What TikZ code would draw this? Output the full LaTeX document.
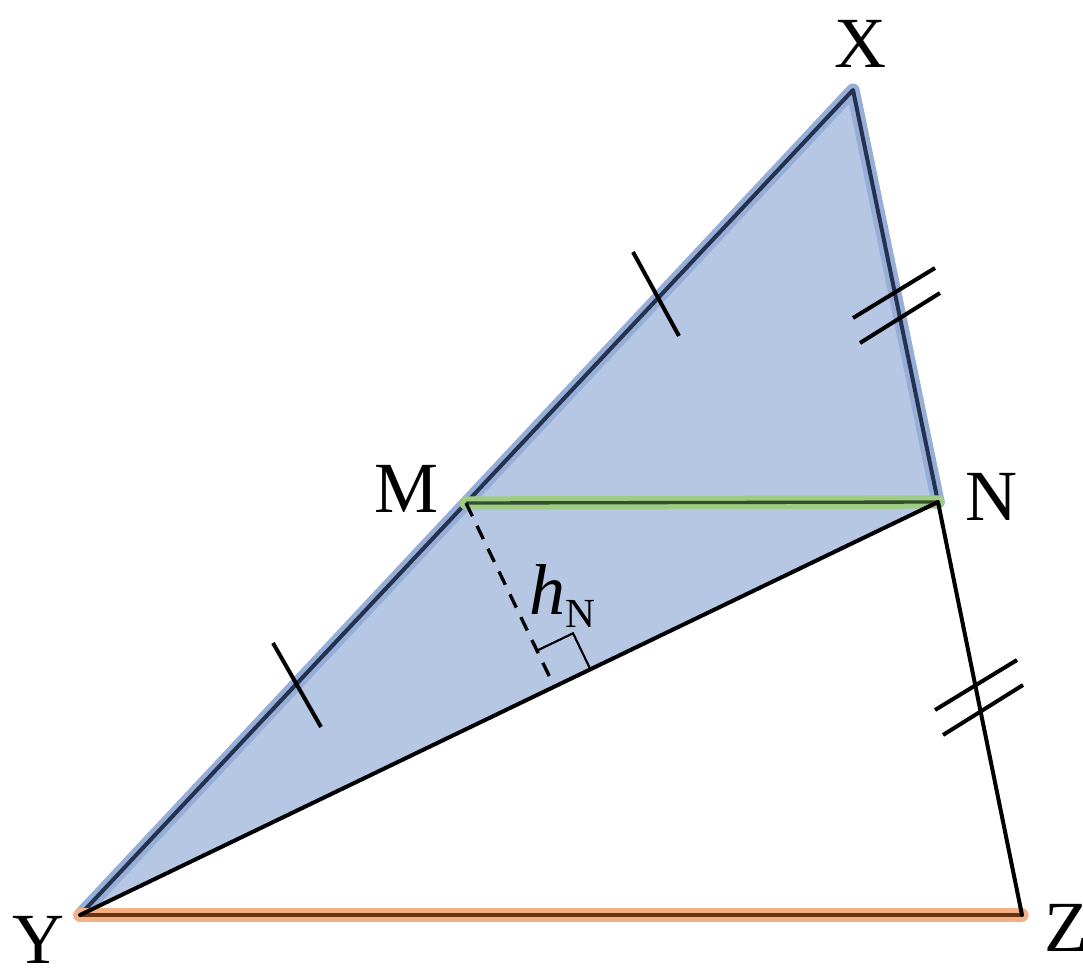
\documentclass[tikz,border=0pt]{standalone}
\usepackage{fontspec}
\setmainfont{Liberation Serif}
\usetikzlibrary{calc}

\definecolor{fillblue}{RGB}{182,199,228}
\definecolor{glowblue}{RGB}{150,174,216}
\definecolor{edgenavy}{RGB}{36,50,80}
\definecolor{glowgreen}{RGB}{158,204,132}
\definecolor{edgegreen}{RGB}{52,78,42}
\definecolor{gloworange}{RGB}{242,176,132}
\definecolor{edgebrown}{RGB}{105,52,18}

\tikzset{
  glow/.style={line width=10pt, line cap=round, line join=round},
  edge/.style={line width=3pt, line cap=round, line join=round},
  hashmark/.style={line width=3pt},
  vlabel/.style={font=\fontsize{54}{60}\selectfont, inner sep=0pt},
}

\begin{document}
\begin{tikzpicture}[x=0.75pt,y=0.75pt,yscale=-1,xscale=1]
\useasboundingbox (0,0) rectangle (1083,976);

%Vertices
\coordinate (X) at (853,90);
\coordinate (Y) at (80,915);
\coordinate (Z) at (1022,915);
\coordinate (M) at (466,503);
\coordinate (N) at (938,502);
\coordinate (F) at ($(Y)!(M)!(N)$);

%Shape: shaded triangle XYN
\fill [fillblue] (X) -- (Y) -- (N) -- cycle ;
\draw [glow, glowblue] (Y) -- (X) -- (N) ;
\draw [edge, edgenavy] (Y) -- (X) -- (N) ;

%Straight Lines: MN
\draw [glow, glowgreen] (M) -- (N) ;
\draw [line width=2.5pt, edgegreen] (M) -- (N) ;

%Straight Lines: YZ
\draw [glow, gloworange] (Y) -- (Z) ;
\draw [line width=3pt, edgebrown] (Y) -- (Z) ;

%Straight Lines: YN and NZ
\draw [edge] (Y) -- (N) -- (Z) ;

%Dashed height from M
\draw [line width=2.5pt, dash pattern=on 11pt off 8pt] (M) -- (F) ;

%Right angle mark
\coordinate (R1) at ($(F)!30pt!(M)$);
\coordinate (R2) at ($(F)!30pt!(N)$);
\draw [line width=1.6pt] (R1) -- ($(R1)+(R2)-(F)$) -- (R2) ;

%Tick marks
\draw [hashmark] (656,294) +(-23,-42) -- +(23,42) ;
\draw [hashmark] (297,685) +(-24,-42) -- +(24,42) ;
\draw [hashmark] (894,293) +(-41,25) -- +(41,-25) ;
\draw [hashmark] (900,318) +(-40,25) -- +(40,-25) ;
\draw [hashmark] (976,685) +(-41,25) -- +(41,-25) ;
\draw [hashmark] (983,710) +(-40,25) -- +(40,-25) ;

% Text Node
\node [vlabel] (lX) at (860,44) {X};
% Text Node
\node [vlabel] (lY) at (38,940) {Y};
% Text Node
\node [vlabel] (lZ) at (1066,928) {Z};
% Text Node
\node [vlabel] (lM) at (407,489) {M};
% Text Node
\node [vlabel] (lN) at (991,497) {N};
% Text Node
\node [vlabel] (lh) at (562,596) {\textit{h}\raisebox{-10pt}{\fontsize{31}{34}\selectfont N}};

\end{tikzpicture}
\end{document}
